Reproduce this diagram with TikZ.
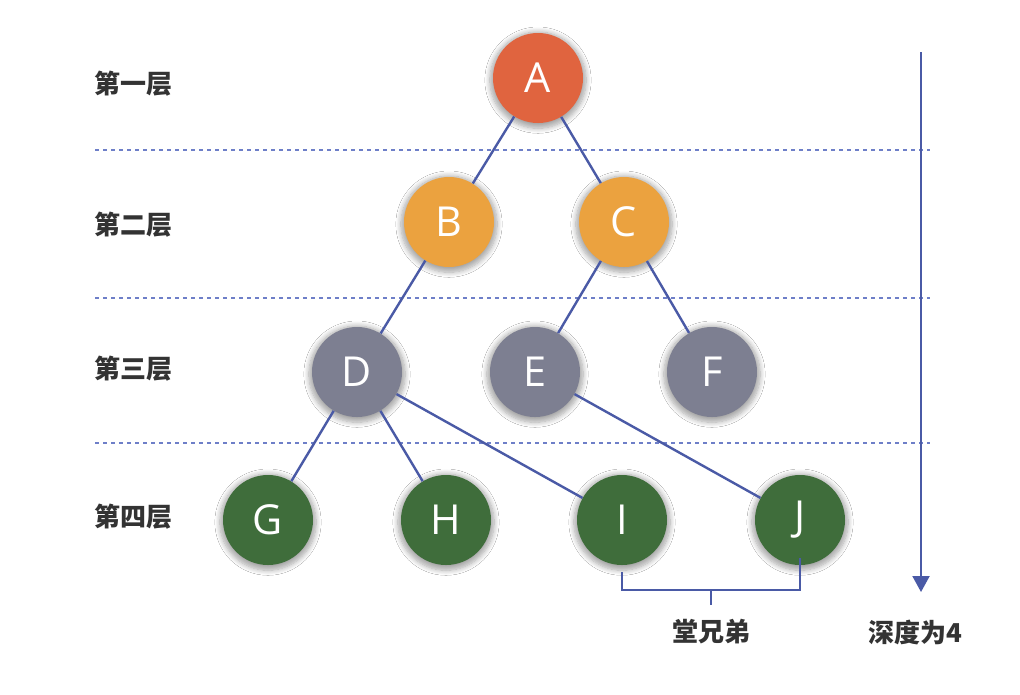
\documentclass[tikz,border=0pt]{standalone}
\usepackage{fontspec}
\setsansfont{Open Sans}
\newfontfamily\cjk{Noto Sans CJK SC}
\usetikzlibrary{shadows.blur,arrows.meta}
\definecolor{rootc}{HTML}{E0643F}
\definecolor{lvtwo}{HTML}{EBA23F}
\definecolor{lvthree}{HTML}{7D7F91}
\definecolor{lvfour}{HTML}{3F6D3B}
\definecolor{edgec}{HTML}{4A5AA6}
\definecolor{dashc}{HTML}{6E7FC8}
\begin{document}
\begin{tikzpicture}[x=0.75pt,y=-0.75pt,
  tnode/.style={circle,minimum size=90pt*0.75,inner sep=0pt,
    text=white,font=\sffamily\fontsize{31}{31}\selectfont,
    blur shadow={shadow xshift=0pt,shadow yshift=-1.5pt,shadow scale=1.07,
      shadow blur steps=8,shadow blur radius=3.5pt,shadow opacity=35}},
  edge/.style={draw=edgec,line width=1.8pt},
  level/.style={draw=dashc,line width=1pt,dash pattern=on 3pt off 3pt},
  lbl/.style={font=\cjk\bfseries\fontsize{19.5}{19.5}\selectfont,text=black!80},
]
\useasboundingbox (0,0) rectangle (1020,694);
\fill[white] (0,0) rectangle (1020,694);

% level separators
\draw[level] (95,150) -- (930,150);
\draw[level] (95,298) -- (930,298);
\draw[level] (95,443) -- (930,443);

% level labels
\node[lbl] (l1) at (133,84) {第一层};
\node[lbl] (l2) at (133,225) {第二层};
\node[lbl] (l3) at (133,369) {第三层};
\node[lbl] (l4) at (133,517) {第四层};

% tree nodes
\node[tnode,fill=rootc]  (A) at (538,78)  {A};
\node[tnode,fill=lvtwo]  (B) at (449,222) {B};
\node[tnode,fill=lvtwo]  (C) at (624,222) {C};
\node[tnode,fill=lvthree](D) at (357,372) {D};
\node[tnode,fill=lvthree](E) at (535,372) {E};
\node[tnode,fill=lvthree](F) at (712,372) {F};
\node[tnode,fill=lvfour] (G) at (268,520) {G};
\node[tnode,fill=lvfour] (H) at (446,520) {H};
\node[tnode,fill=lvfour] (I) at (622,520) {I};
\node[tnode,fill=lvfour] (J) at (800,520) {J};

% edges
\draw[edge] (A) -- (B);
\draw[edge] (A) -- (C);
\draw[edge] (B) -- (D);
\draw[edge] (C) -- (E);
\draw[edge] (C) -- (F);
\draw[edge] (D) -- (G);
\draw[edge] (D) -- (H);
\draw[edge] (D) -- (I);
\draw[edge] (E) -- (J);

% cousin bracket
\coordinate (bm) at (711,605);
\draw[edge,line width=1.3pt] (I.south) ++(0,7) |- (711,590) -| ([yshift=7*0.75pt]J.south);
\draw[edge,line width=1.3pt] (711,590) -- (bm);
\node[lbl] (cous) at (711,632) {堂兄弟};

% depth arrow
\coordinate (dtop) at (921,52);
\coordinate (dbot) at (921,592);
\draw[edge,line width=1.5pt,-{Triangle[length=16pt*0.75,width=17pt*0.75]}] (dtop) -- (dbot);
\node[lbl] (depth) at (915,632) {深度为4};
\end{tikzpicture}
\end{document}
